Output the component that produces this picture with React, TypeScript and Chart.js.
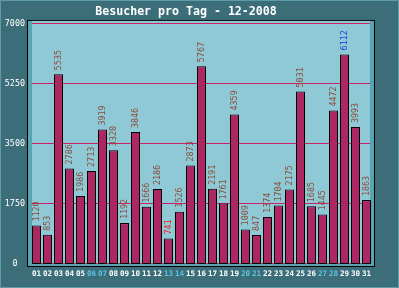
import React, { useEffect, useRef } from "react";
import { Chart, registerables } from "chart.js";

Chart.register(...registerables);

const days = ["01","02","03","04","05","06","07","08","09","10","11","12","13","14","15","16","17","18","19","20","21","22","23","24","25","26","27","28","29","30","31"];
const visitors = [1120,853,5535,2786,1986,2713,3919,3320,1192,3846,1666,2186,741,1526,2873,5767,2191,1761,4359,1009,847,1374,1704,2175,5031,1685,1445,4472,6112,3993,1863];
const weekendDays = ["06","07","13","14","20","21","27","28"];
const yMax = 7000;
const yStep = 1750;
const titleText = "Besucher pro Tag - 12-2008";

const C = {
  bg: "#3c6e7a",
  outer: "#5c9ba7",
  plot: "#8ec9d5",
  stripe: "#58a5b1",
  bar: "#ad2763",
  grid: "#cc2068",
  label: "#8b4d3b",
  max: "#1f3cf0",
  min: "#ff1a1a",
  weekend: "#5ec3e3",
};

const framePlugin = {
  id: "frame",
  beforeDraw(chart: any) {
    const { ctx, width, height, chartArea: a } = chart;
    ctx.save();
    ctx.fillStyle = C.outer;
    ctx.fillRect(0, 0, width, height);
    ctx.fillStyle = C.bg;
    ctx.fillRect(1, 1, width - 2, height - 2);
    ctx.fillStyle = "#000";
    ctx.fillRect(a.left - 4, a.top - 4, a.right - a.left + 7, a.bottom - a.top + 7);
    ctx.fillStyle = C.stripe;
    ctx.fillRect(a.left - 3, a.top - 3, a.right - a.left + 5, a.bottom - a.top + 5);
    ctx.fillStyle = C.plot;
    ctx.fillRect(a.left + 1, a.top - 3, a.right - a.left - 3, a.bottom - a.top + 3);
    ctx.restore();
  },
  beforeDatasetsDraw(chart: any) {
    const { ctx, chartArea: a } = chart;
    const y = chart.scales.y;
    ctx.save();
    ctx.fillStyle = C.grid;
    y.ticks.forEach((t: any) => {
      const py = Math.round(y.getPixelForValue(t.value));
      ctx.fillRect(a.left + 1, py - 1, a.right - a.left - 3, 1);
    });
    ctx.restore();
  },
};

const labelPlugin = {
  id: "barLabels",
  afterDatasetsDraw(chart: any) {
    const { ctx } = chart;
    const meta = chart.getDatasetMeta(0);
    const vals = chart.data.datasets[0].data as number[];
    const mx = Math.max(...vals);
    const mn = Math.min(...vals);
    ctx.save();
    ctx.font = "8.4px 'DejaVu Sans Mono'";
    ctx.textAlign = "left";
    ctx.textBaseline = "middle";
    meta.data.forEach((el: any, i: number) => {
      const v = vals[i];
      ctx.fillStyle = v === mx ? C.max : v === mn ? C.min : C.label;
      ctx.save();
      ctx.translate(el.x, el.y - 4);
      ctx.rotate(-Math.PI / 2);
      ctx.fillText(String(v), 0, 0);
      ctx.restore();
    });
    ctx.restore();
  },
};

export default function App() {
  const ref = useRef<HTMLCanvasElement>(null);
  useEffect(() => {
    document.body.style.margin = "0";
    const chart = new Chart(ref.current!, {
      type: "bar",
      data: {
        labels: days,
        datasets: [
          {
            data: visitors,
            backgroundColor: C.bar,
            borderColor: "#000",
            borderWidth: 1,
            borderSkipped: false,
            barPercentage: 0.82,
            categoryPercentage: 1,
          },
        ],
      },
      options: {
        animation: false,
        responsive: false,
        devicePixelRatio: 1,
        layout: { padding: { left: 0, right: 27, top: 0, bottom: 0 } },
        plugins: {
          legend: { display: false },
          tooltip: { enabled: false },
          title: {
            display: true,
            text: titleText,
            color: "#ffffff",
            font: { family: "'DejaVu Sans Mono'", size: 11.6, weight: "bold" },
            padding: { top: 5, bottom: 5 },
          },
        },
        scales: {
          x: {
            offset: true,
            grid: { display: false, drawTicks: false },
            border: { display: false },
            ticks: {
              autoSkip: false,
              maxRotation: 0,
              minRotation: 0,
              padding: 5,
              font: { family: "'DejaVu Sans Mono'", size: 7.6, weight: "bold" },
              color: (c: any) => (weekendDays.includes(days[c.index]) ? C.weekend : "#ffffff"),
            },
            afterFit(s: any) {
              s.height = 24;
            },
          },
          y: {
            min: 0,
            max: yMax,
            grid: { display: false, drawTicks: false },
            border: { display: false },
            ticks: {
              stepSize: yStep,
              crossAlign: "center",
              padding: 6,
              color: "#ffffff",
              font: { family: "'DejaVu Sans Mono'", size: 8.4 },
              callback: (v: any) => String(v),
            },
            afterFit(s: any) {
              s.width = 31;
            },
          },
        },
      },
      plugins: [framePlugin, labelPlugin],
    } as any);
    return () => chart.destroy();
  }, []);
  return (
    <div style={{ position: "absolute", left: 0, top: 0, width: 399, height: 288 }}>
      <canvas ref={ref} width={399} height={288} style={{ width: 399, height: 288, display: "block" }} />
    </div>
  );
}
